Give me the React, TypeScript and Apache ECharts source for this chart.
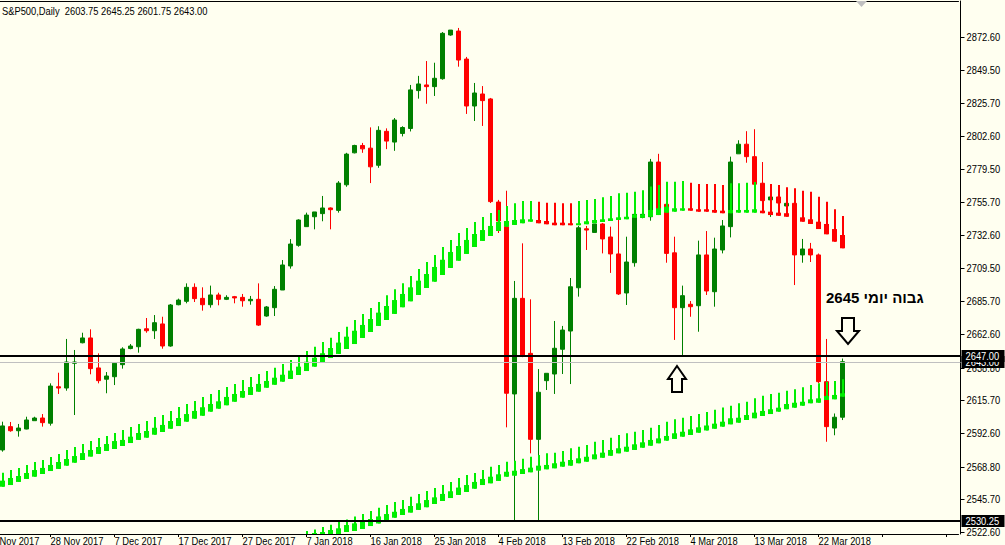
import React, { useEffect, useRef } from "react";
import * as echarts from "echarts";

// ---------- data ----------
const SYMBOL = "S&P500";
const PERIOD = "Daily";

// trading bars (broker time, Sunday sessions included); index 0 = bar k=-2
const DATES = [
  "19 Nov 2017","20 Nov 2017","21 Nov 2017","22 Nov 2017","23 Nov 2017","24 Nov 2017","26 Nov 2017","27 Nov 2017","28 Nov 2017","29 Nov 2017","30 Nov 2017",
  "1 Dec 2017","3 Dec 2017","4 Dec 2017","5 Dec 2017","6 Dec 2017","7 Dec 2017","8 Dec 2017","10 Dec 2017","11 Dec 2017","12 Dec 2017","13 Dec 2017","14 Dec 2017","15 Dec 2017","17 Dec 2017","18 Dec 2017","19 Dec 2017","20 Dec 2017","21 Dec 2017","22 Dec 2017","24 Dec 2017","26 Dec 2017","27 Dec 2017","28 Dec 2017","29 Dec 2017",
  "1 Jan 2018","2 Jan 2018","3 Jan 2018","4 Jan 2018","5 Jan 2018","7 Jan 2018","8 Jan 2018","9 Jan 2018","10 Jan 2018","11 Jan 2018","12 Jan 2018","14 Jan 2018","15 Jan 2018","16 Jan 2018","17 Jan 2018","18 Jan 2018","19 Jan 2018","21 Jan 2018","22 Jan 2018","23 Jan 2018","24 Jan 2018","25 Jan 2018","26 Jan 2018","28 Jan 2018","29 Jan 2018","30 Jan 2018","31 Jan 2018",
  "1 Feb 2018","2 Feb 2018","4 Feb 2018","5 Feb 2018","6 Feb 2018","7 Feb 2018","8 Feb 2018","9 Feb 2018","11 Feb 2018","12 Feb 2018","13 Feb 2018","14 Feb 2018","15 Feb 2018","16 Feb 2018","18 Feb 2018","19 Feb 2018","20 Feb 2018","21 Feb 2018","22 Feb 2018","23 Feb 2018","25 Feb 2018","26 Feb 2018","27 Feb 2018","28 Feb 2018",
  "1 Mar 2018","2 Mar 2018","4 Mar 2018","5 Mar 2018","6 Mar 2018","7 Mar 2018","8 Mar 2018","9 Mar 2018","11 Mar 2018","12 Mar 2018","13 Mar 2018","14 Mar 2018","15 Mar 2018","16 Mar 2018","18 Mar 2018","19 Mar 2018","20 Mar 2018","21 Mar 2018","22 Mar 2018","23 Mar 2018","25 Mar 2018","26 Mar 2018",
];
const FIRST_BAR = 2; // candles start at DATES[2]
const SHIFT_BARS = 14; // empty chart-shift space on the right
const LABEL_EVERY = 8; // time-scale label every 8 bars

// [open, high, low, close] from 21 Nov 2017
const OHLC = [
  [2580.6, 2600.6, 2579.4, 2597.6], [2597.1, 2600.4, 2593.5, 2594.2], [2594.2, 2599.0, 2590.0, 2596.1], [2595.4, 2604.1, 2595.2, 2601.8],
  [2601.3, 2604.1, 2601.3, 2603.2], [2603.2, 2606.0, 2597.1, 2599.9], [2599.5, 2627.7, 2597.8, 2625.8], [2625.3, 2635.2, 2620.2, 2624.4],
  [2624.4, 2659.1, 2622.5, 2642.8], [2641.9, 2651.3, 2605.3, 2642.8], [2656.4, 2663.5, 2656.0, 2659.8], [2659.8, 2665.9, 2634.1, 2638.1],
  [2638.6, 2648.9, 2627.7, 2629.6], [2630.6, 2635.7, 2620.7, 2632.9], [2632.4, 2642.1, 2626.5, 2641.9], [2640.9, 2653.2, 2638.1, 2652.0],
  [2652.3, 2655.5, 2651.8, 2654.1], [2653.6, 2666.3, 2649.4, 2665.9], [2666.3, 2673.9, 2663.5, 2664.9], [2664.9, 2676.0, 2659.1, 2670.6],
  [2669.7, 2674.8, 2652.2, 2654.1], [2654.1, 2683.8, 2653.6, 2683.1], [2683.3, 2687.6, 2682.9, 2686.6], [2685.7, 2698.4, 2684.3, 2695.6],
  [2695.6, 2698.4, 2685.2, 2687.6], [2687.8, 2695.6, 2679.1, 2683.3], [2683.3, 2696.8, 2681.2, 2690.2], [2690.2, 2691.8, 2682.9, 2687.1],
  [2687.1, 2690.0, 2686.6, 2688.5], [2689.0, 2689.5, 2684.3, 2688.1], [2688.5, 2690.9, 2681.9, 2686.1], [2686.1, 2689.5, 2683.3, 2687.1],
  [2687.1, 2698.4, 2668.3, 2668.9], [2675.3, 2682.4, 2674.8, 2681.7], [2681.2, 2696.5, 2675.3, 2694.2], [2693.7, 2714.9, 2693.7, 2711.4],
  [2710.7, 2729.7, 2708.8, 2726.2], [2725.3, 2743.7, 2724.3, 2743.2], [2738.5, 2748.4, 2738.3, 2746.7], [2745.5, 2748.9, 2736.6, 2748.9],
  [2747.7, 2760.2, 2742.3, 2751.7], [2751.7, 2752.1, 2736.6, 2750.5], [2750.0, 2770.7, 2748.4, 2769.3], [2768.1, 2790.7, 2766.7, 2789.8],
  [2790.7, 2796.4, 2790.3, 2795.9], [2795.9, 2797.7, 2790.7, 2793.5], [2794.0, 2808.7, 2769.3, 2780.8], [2781.9, 2809.5, 2780.1, 2806.6],
  [2805.9, 2808.0, 2793.3, 2799.0], [2798.3, 2815.3, 2792.1, 2813.9], [2804.4, 2809.5, 2802.3, 2808.6], [2807.9, 2838.7, 2805.8, 2835.2],
  [2834.7, 2845.1, 2829.0, 2839.4], [2838.7, 2855.6, 2825.4, 2837.5], [2837.5, 2854.4, 2830.9, 2843.4], [2843.1, 2876.1, 2842.4, 2875.2],
  [2874.0, 2877.5, 2873.5, 2877.5], [2876.8, 2879.0, 2851.6, 2856.3], [2857.0, 2858.5, 2818.2, 2823.8], [2823.8, 2840.1, 2813.2, 2833.0],
  [2832.3, 2837.9, 2809.7, 2827.6], [2828.8, 2829.5, 2755.2, 2756.2], [2755.9, 2757.4, 2734.0, 2742.5], [2738.5, 2763.9, 2596.6, 2620.7],
  [2620.2, 2700.1, 2531.0, 2687.8], [2687.8, 2726.7, 2646.2, 2647.1], [2648.9, 2687.1, 2578.2, 2588.1], [2588.1, 2637.8, 2531.0, 2621.4],
  [2629.6, 2634.8, 2623.0, 2634.8], [2634.3, 2671.8, 2620.2, 2652.5], [2651.8, 2668.3, 2634.3, 2665.4], [2664.7, 2702.2, 2627.2, 2696.0],
  [2695.3, 2739.0, 2689.0, 2737.7], [2737.0, 2739.0, 2722.0, 2736.1], [2734.4, 2740.4, 2734.4, 2740.4], [2740.4, 2741.1, 2719.6, 2729.8],
  [2731.2, 2738.5, 2705.8, 2719.2], [2719.2, 2743.2, 2690.2, 2690.9], [2691.6, 2731.4, 2683.1, 2713.5], [2713.0, 2747.2, 2710.2, 2747.2],
  [2745.1, 2748.9, 2744.4, 2747.2], [2745.5, 2786.4, 2742.7, 2784.2], [2784.2, 2790.0, 2746.7, 2750.2], [2754.3, 2757.4, 2713.0, 2719.6],
  [2720.0, 2731.4, 2658.4, 2681.2], [2681.2, 2696.8, 2647.7, 2689.7], [2683.6, 2685.9, 2674.8, 2681.9], [2682.6, 2728.6, 2664.2, 2718.5],
  [2718.5, 2735.4, 2690.2, 2693.0], [2692.5, 2730.7, 2681.9, 2722.7], [2722.0, 2743.2, 2719.6, 2739.0], [2738.5, 2788.0, 2730.9, 2784.2],
  [2790.0, 2799.6, 2790.0, 2796.8], [2796.8, 2806.0, 2783.7, 2788.0], [2788.0, 2807.4, 2768.5, 2768.5], [2769.2, 2784.2, 2755.0, 2756.9],
  [2757.4, 2768.0, 2745.4, 2759.5], [2759.5, 2762.4, 2753.8, 2755.2], [2753.1, 2756.0, 2752.5, 2755.0], [2755.0, 2756.5, 2697.2, 2718.5],
  [2718.5, 2729.8, 2713.0, 2722.7], [2722.7, 2727.0, 2713.5, 2718.5], [2718.5, 2719.5, 2627.9, 2628.9], [2628.9, 2659.1, 2586.4, 2597.1],
  [2596.1, 2606.4, 2591.0, 2603.75], [2603.75, 2645.25, 2601.75, 2643.0],
];

// indicator band 1: [thin top, block top, bottom], from 21 Nov 2017
const BAND1 = [
  [2564.5, 2558.9, 2554.6], [2566.4, 2560.8, 2555.8], [2567.9, 2562.2, 2558.0], [2570.0, 2564.3, 2560.1], [2572.1, 2566.4, 2561.7],
  [2573.5, 2567.9, 2563.6], [2575.7, 2570.0, 2565.7], [2577.8, 2572.1, 2567.2], [2580.6, 2574.2, 2569.5], [2582.7, 2576.3, 2571.6],
  [2584.8, 2578.4, 2573.5], [2586.9, 2580.6, 2575.9], [2589.1, 2582.7, 2577.8], [2590.5, 2584.8, 2579.9], [2592.6, 2586.9, 2581.3],
  [2594.7, 2587.7, 2583.4], [2596.9, 2590.0, 2585.5], [2599.0, 2592.6, 2587.7], [2601.1, 2594.0, 2589.3], [2603.9, 2596.3, 2591.4],
  [2605.3, 2598.3, 2593.3], [2608.2, 2601.1, 2595.6], [2611.0, 2603.2, 2597.5], [2613.1, 2606.0, 2600.6], [2615.2, 2608.2, 2602.7],
  [2618.1, 2610.8, 2604.8], [2620.2, 2613.1, 2607.7], [2623.0, 2615.0, 2609.8], [2625.1, 2618.1, 2612.2], [2627.3, 2620.2, 2614.7],
  [2630.1, 2622.3, 2617.6], [2632.2, 2625.1, 2619.5], [2634.3, 2627.3, 2621.8], [2636.4, 2629.4, 2624.6], [2638.8, 2631.7, 2626.7],
  [2641.4, 2633.8, 2628.9], [2644.2, 2636.7, 2630.8], [2647.5, 2639.5, 2633.6], [2650.6, 2643.0, 2636.4], [2653.6, 2645.8, 2639.5],
  [2657.0, 2649.0, 2642.3], [2660.0, 2652.7, 2645.6], [2664.0, 2656.5, 2648.5], [2667.8, 2660.7, 2652.0], [2672.5, 2664.9, 2655.5],
  [2676.8, 2669.0, 2659.8], [2681.0, 2673.2, 2664.0], [2685.2, 2677.7, 2668.3], [2690.0, 2682.4, 2672.5], [2694.2, 2686.6, 2676.8],
  [2698.4, 2690.9, 2681.5], [2703.6, 2695.6, 2685.7], [2708.5, 2700.3, 2690.2], [2713.5, 2705.0, 2695.1], [2718.5, 2710.0, 2699.6],
  [2724.1, 2715.1, 2704.3], [2729.1, 2720.6, 2709.3], [2734.0, 2724.8, 2714.4], [2737.6, 2729.1, 2719.2], [2741.8, 2733.3, 2724.1],
  [2745.3, 2736.1, 2728.4], [2748.2, 2739.0, 2731.9], [2750.3, 2741.8, 2735.4], [2753.1, 2742.5, 2738.5], [2755.0, 2743.2, 2739.7],
  [2756.6, 2743.7, 2740.9], [2756.6, 2743.7, 2742.0], [2756.1, 2743.2, 2740.9], [2755.4, 2742.5, 2740.2], [2755.4, 2741.3, 2739.5],
  [2755.0, 2741.3, 2739.5], [2755.0, 2740.9, 2739.5], [2756.6, 2740.9, 2739.5], [2757.4, 2742.3, 2740.2], [2758.1, 2743.2, 2740.9],
  [2759.3, 2743.7, 2741.8], [2760.2, 2744.4, 2742.5], [2762.1, 2745.1, 2743.2], [2762.5, 2745.5, 2743.7], [2763.2, 2747.0, 2744.8],
  [2764.2, 2747.0, 2744.8], [2766.8, 2750.3, 2745.5], [2768.0, 2751.5, 2746.7], [2770.3, 2752.6, 2748.4], [2770.3, 2751.5, 2749.1],
  [2770.8, 2751.5, 2749.8], [2769.6, 2751.5, 2749.8], [2768.7, 2750.8, 2749.1], [2768.7, 2750.8, 2749.1], [2768.7, 2750.3, 2748.4],
  [2768.0, 2749.8, 2748.0], [2769.2, 2750.3, 2748.0], [2769.2, 2750.3, 2748.4], [2769.6, 2750.3, 2748.4], [2770.1, 2750.8, 2748.4],
  [2769.2, 2749.8, 2748.0], [2768.7, 2749.1, 2746.7], [2768.0, 2748.4, 2746.2], [2766.3, 2748.0, 2745.5], [2765.6, 2746.7, 2744.4],
  [2763.9, 2745.1, 2742.0], [2763.2, 2743.7, 2740.4], [2759.7, 2742.0, 2736.8], [2756.1, 2740.4, 2733.1], [2750.8, 2736.8, 2727.9],
  [2746.0, 2732.6, 2723.2],
];
// bar ranges (offsets from first candle) where band 1 is falling (red)
const BAND1_FALLING = [[67, 71], [86, 90], [95, 105]];

// indicator band 2: [thin top, block top, bottom], starts at 7 Jan 2018
const BAND2_START = 38;
const BAND2 = [
  [2523.3, 2520.5, 2517.0], [2524.4, 2521.9, 2518.4], [2526.1, 2522.6, 2519.1], [2527.8, 2524.0, 2520.1], [2529.7, 2525.2, 2521.2],
  [2531.4, 2527.5, 2522.6], [2533.6, 2528.7, 2523.3], [2535.3, 2529.7, 2524.7], [2537.4, 2531.8, 2526.8], [2539.8, 2533.6, 2528.6],
  [2541.7, 2535.3, 2530.7], [2543.8, 2536.9, 2532.7], [2545.2, 2538.9, 2534.6], [2547.6, 2541.0, 2536.3], [2549.5, 2542.9, 2538.2],
  [2551.6, 2545.2, 2540.1], [2553.7, 2547.1, 2542.4], [2555.8, 2549.5, 2544.5], [2558.0, 2551.4, 2546.6], [2560.8, 2554.0, 2548.8],
  [2562.9, 2555.8, 2550.9], [2564.3, 2558.0, 2553.2], [2566.4, 2560.1, 2555.8], [2568.8, 2561.7, 2557.0], [2570.0, 2563.4, 2558.7],
  [2572.3, 2565.2, 2561.7], [2573.0, 2565.9, 2562.4], [2574.4, 2567.1, 2563.6], [2575.8, 2568.1, 2564.8], [2577.1, 2569.5, 2566.0],
  [2578.3, 2570.0, 2566.9], [2578.7, 2571.2, 2567.6], [2579.9, 2572.3, 2568.8], [2581.8, 2573.5, 2569.5], [2582.9, 2574.7, 2571.2],
  [2584.1, 2575.8, 2572.3], [2586.4, 2577.5, 2574.0], [2587.7, 2578.7, 2575.1], [2589.3, 2580.6, 2576.5], [2591.2, 2581.8, 2578.2],
  [2592.4, 2582.9, 2579.4], [2593.5, 2584.6, 2580.6], [2594.7, 2586.0, 2582.2], [2596.3, 2587.7, 2583.6], [2598.3, 2588.8, 2585.3],
  [2600.6, 2590.5, 2587.2], [2602.3, 2592.4, 2588.4], [2603.4, 2593.5, 2590.0], [2604.6, 2595.2, 2591.2], [2606.0, 2596.6, 2592.8],
  [2607.4, 2597.9, 2594.4], [2609.1, 2599.2, 2595.6], [2610.6, 2600.6, 2597.1], [2611.9, 2603.0, 2598.7], [2613.6, 2603.4, 2599.9],
  [2614.7, 2605.3, 2601.8], [2617.1, 2607.0, 2603.0], [2619.0, 2608.2, 2604.6], [2620.2, 2609.4, 2606.0], [2621.1, 2610.5, 2607.7],
  [2622.5, 2613.1, 2609.4], [2623.5, 2614.0, 2610.5], [2624.9, 2614.7, 2611.9], [2626.5, 2616.4, 2613.6], [2627.8, 2617.1, 2614.0],
  [2628.9, 2618.8, 2615.9], [2629.4, 2619.5, 2616.4], [2630.6, 2620.7, 2618.3],
];

// price scale
const Y_MIN = 2521.18;
const Y_MAX = 2898.05;
const Y_TICKS = [2872.6, 2849.5, 2825.7, 2802.6, 2779.5, 2755.7, 2732.6, 2709.5, 2685.7, 2662.6, 2638.8, 2615.7, 2592.6, 2568.8, 2545.7, 2522.6];

// horizontal levels
const LEVELS = [2647.0, 2530.25];
const BID = OHLC[OHLC.length - 1][3];
const NOTE_TEXT = "גבוה יומי 2645";

// ---------- styles ----------
const BG = "#FFFFF0";
const BULL = "#008000";
const BEAR = "#FF0000";
const LIME = "#00EE00";
const FONT = '11px "Liberation Sans", Arial, sans-serif';
const NARROW_X = 0.85;

export default function App() {
  const ref = useRef<HTMLDivElement>(null);

  useEffect(() => {
    document.body.style.margin = "0";
    const chart = echarts.init(ref.current!, null, { renderer: "svg" });

    const cats = [...DATES, ...new Array(SHIFT_BARS).fill("")];
    const isFalling = (k: number) => BAND1_FALLING.some(([a, b]) => k >= a && k <= b);

    const narrowText = (text: string, x: number, y: number, fill: string, vAlign: string) => ({
      type: "text",
      x,
      y,
      scaleX: NARROW_X,
      style: { text, x: 0, y: 0, fill, font: FONT, textAlign: "left", textVerticalAlign: vAlign },
    });

    const bandRender = (params: any, api: any) => {
      const i = api.value(0);
      const pt = api.coord([i, api.value(1)]);
      const pbt = api.coord([i, api.value(2)]);
      const pbb = api.coord([i, api.value(3)]);
      const c = api.value(4) ? BEAR : LIME;
      const cx = pt[0];
      return {
        type: "group",
        children: [
          { type: "rect", shape: { x: cx - 0.5, y: pt[1], width: 2, height: pbb[1] - pt[1] }, style: { fill: c } },
          { type: "rect", shape: { x: cx - 2.5, y: pbt[1], width: 5, height: pbb[1] - pbt[1] }, style: { fill: c } },
        ],
      };
    };

    const boxRender = (lineColor: string, lineWidth: number) => (params: any, api: any) => {
      const yRaw = Math.round(api.coord([0, api.value(1)])[1]);
      const y = lineWidth % 2 ? yRaw + 0.5 : yRaw;
      const r = params.coordSys.x + params.coordSys.width + 2;
      return {
        type: "group",
        children: [
          { type: "line", shape: { x1: 0, y1: y, x2: r, y2: y }, style: { stroke: lineColor, lineWidth } },
          { type: "rect", shape: { x: r + 1, y: yRaw - 6, width: 43, height: 12 }, style: { fill: "#000" } },
          narrowText(api.value(1).toFixed(2), r + 5, yRaw, "#fff", "middle"),
        ],
      };
    };

    const last = OHLC[OHLC.length - 1];
    const title = `${SYMBOL},${PERIOD}  ${last[0].toFixed(2)} ${last[1].toFixed(2)} ${last[2].toFixed(2)} ${last[3].toFixed(2)}`;

    const xLabelData = DATES.map((d, i) => [i, Y_MIN]).filter((d) => d[0] % LABEL_EVERY === 0);

    const option: any = {
      animation: false,
      backgroundColor: BG,
      grid: { left: -17.5, top: 1, width: 976, height: 533, containLabel: false, outerBoundsMode: "none" },
      xAxis: [
        {
          type: "category",
          data: cats,
          boundaryGap: true,
          axisLine: { show: true, lineStyle: { color: "#000", width: 1 } },
          axisTick: { show: true, alignWithLabel: true, interval: (i: number) => i % LABEL_EVERY === 0, length: 3, lineStyle: { color: "#000" } },
          axisLabel: { show: false },
          splitLine: { show: false },
        },
        {
          type: "category",
          data: cats,
          position: "top",
          axisLine: { show: true, lineStyle: { color: "#000", width: 1 } },
          axisTick: { show: false },
          axisLabel: { show: false },
          splitLine: { show: false },
        },
      ],
      yAxis: {
        type: "value",
        position: "right",
        offset: 2,
        min: Y_MIN,
        max: Y_MAX,
        axisLine: { show: true, lineStyle: { color: "#000", width: 1 } },
        axisTick: { show: false },
        axisLabel: { show: false },
        splitLine: { show: false },
      },
      series: [
        {
          type: "candlestick",
          z: 2,
          dimensions: ["idx", "open", "close", "low", "high"],
          data: OHLC.map((d, k) => [k + FIRST_BAR, d[0], d[3], d[2], d[1]]),
          encode: { x: 0, y: [1, 2, 3, 4] },
          barWidth: 4,
          itemStyle: { color: BULL, color0: BEAR, borderColor: BULL, borderColor0: BEAR, borderWidth: 1 },
        },
        {
          type: "custom",
          z: 3,
          clip: true,
          data: BAND1.map((b, k) => [k + FIRST_BAR, b[0], b[1], b[2], isFalling(k) ? 1 : 0]),
          encode: { x: 0, y: [1, 2, 3] },
          renderItem: bandRender,
        },
        {
          type: "custom",
          z: 3,
          clip: true,
          data: BAND2.map((b, j) => [j + BAND2_START + FIRST_BAR, b[0], b[1], b[2], 0]),
          encode: { x: 0, y: [1, 2, 3] },
          renderItem: bandRender,
        },
        // time-scale labels
        {
          type: "custom",
          z: 10,
          clip: false,
          silent: true,
          data: xLabelData,
          encode: { x: 0, y: 1 },
          renderItem: (params: any, api: any) => {
            const i = api.value(0);
            const p = api.coord([i, Y_MIN]);
            return narrowText(DATES[i], p[0], p[1] + 2, "#000", "top");
          },
        },
        // right price scale labels
        {
          type: "custom",
          z: 10,
          clip: false,
          silent: true,
          data: Y_TICKS.map((v) => [0, v]),
          encode: { x: 0, y: 1 },
          renderItem: (params: any, api: any) => {
            const y = Math.round(api.coord([0, api.value(1)])[1]) + 0.5;
            const r = params.coordSys.x + params.coordSys.width + 2;
            return {
              type: "group",
              children: [
                { type: "line", shape: { x1: r, y1: y, x2: r + 4, y2: y }, style: { stroke: "#000", lineWidth: 1 } },
                narrowText(api.value(1).toFixed(2), r + 6, y, "#000", "middle"),
              ],
            };
          },
        },
        // bid line
        {
          type: "custom",
          z: 11,
          clip: false,
          silent: true,
          data: [[0, BID]],
          encode: { x: 0, y: 1 },
          renderItem: boxRender("#C0C0C0", 1),
        },
        // horizontal levels
        {
          type: "custom",
          z: 12,
          clip: false,
          silent: true,
          data: LEVELS.map((v) => [0, v]),
          encode: { x: 0, y: 1 },
          renderItem: boxRender("#000", 2),
        },
      ],
      graphic: [
        { type: "text", x: 2, y: 6, scaleX: NARROW_X, z: 20, style: { text: title, fill: "#000", font: FONT } },
        { type: "text", left: 826, top: 290, z: 20, style: { text: NOTE_TEXT, fill: "#000", font: 'bold 15px "Liberation Sans", Arial, sans-serif' } },
        {
          type: "polygon",
          z: 20,
          shape: { points: [[677, 366], [686, 379], [682, 379], [682, 392], [672, 392], [672, 379], [668, 379]] },
          style: { fill: BG, stroke: "#000", lineWidth: 2 },
        },
        {
          type: "polygon",
          z: 20,
          shape: { points: [[842, 318], [854, 318], [854, 331], [859, 331], [848, 344], [837, 331], [842, 331]] },
          style: { fill: BG, stroke: "#000", lineWidth: 2 },
        },
        {
          type: "polygon",
          z: 20,
          shape: { points: [[856, 1], [867, 1], [861.5, 7]] },
          style: { fill: "#C0C0C0" },
        },
      ],
    };

    chart.setOption(option);
    return () => chart.dispose();
  }, []);

  return <div ref={ref} style={{ position: "absolute", left: 0, top: 0, width: 1005, height: 545 }} />;
}
